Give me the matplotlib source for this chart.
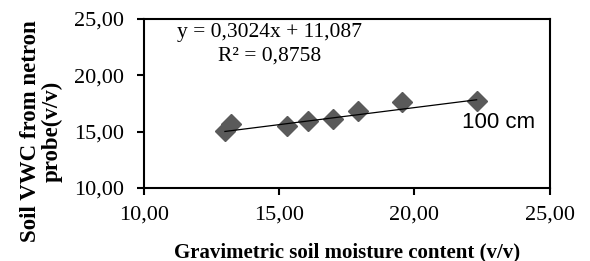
import numpy as np
import matplotlib
matplotlib.use("Agg")
import matplotlib.pyplot as plt

# Data
grav = [13.00, 13.21, 15.28, 16.06, 16.98, 17.93, 19.53, 22.30]
vwc = [15.09, 15.68, 15.50, 15.98, 16.12, 16.83, 17.61, 17.72]
slope = 0.3024
intercept = 11.087
r2 = 0.8758
xticks = [10, 15, 20, 25]
yticks = [10, 15, 20, 25]
xticklabels = ["10,00", "15,00", "20,00", "25,00"]
yticklabels = ["10,00", "15,00", "20,00", "25,00"]
series_label = "100 cm"

serif = ["Liberation Serif", "DejaVu Serif"]

fig = plt.figure(figsize=(5.9, 2.61), dpi=100)
ax = fig.add_axes([0.2436, 0.2797, 0.6881, 0.6475])

ax.plot(grav, vwc, linestyle="none", marker="D", markersize=10,
        color="#5a5a5a", zorder=3)
xl = np.array([min(grav), max(grav)])
ax.plot(xl, slope * xl + intercept, color="black", linewidth=0.9, zorder=4)

ax.set_xlim(10, 25)
ax.set_ylim(10, 25)
ax.set_xticks(xticks)
ax.set_yticks(yticks)
ax.set_xticklabels(xticklabels, family=serif, fontsize=16)
ax.set_yticklabels(yticklabels, family=serif, fontsize=16)
ax.tick_params(direction="out", length=5, width=1.5, colors="black")
ax.tick_params(axis="x", pad=7.5)
ax.tick_params(axis="y", pad=9)
for s in ax.spines.values():
    s.set_linewidth(1.5)
    s.set_color("black")

ax.set_xlabel("Gravimetric soil moisture content (v/v)", family=serif,
              fontsize=15, fontweight="bold", labelpad=13)
ax.set_ylabel("Soil VWC from netron\nprobe(v/v)", family=serif,
              fontsize=16.5, fontweight="bold", linespacing=1.05,
              multialignment="center")
ax.yaxis.set_label_coords(-0.2, 0.334)

eq = "y = {:.4f}x + {:.3f}".format(slope, intercept).replace(".", ",")
rt = "R² = {:.4f}".format(r2).replace(".", ",")
ax.text(0.311, 0.918, eq, transform=ax.transAxes, ha="center", va="center",
        family=serif, fontsize=15.5)
ax.text(0.311, 0.782, rt, transform=ax.transAxes, ha="center", va="center",
        family=serif, fontsize=15.5)
ax.text(0.783, 0.385, series_label, transform=ax.transAxes, ha="left",
        va="center", family=["Liberation Sans", "DejaVu Sans"], fontsize=16)

fig.savefig("out.png", dpi=100)
